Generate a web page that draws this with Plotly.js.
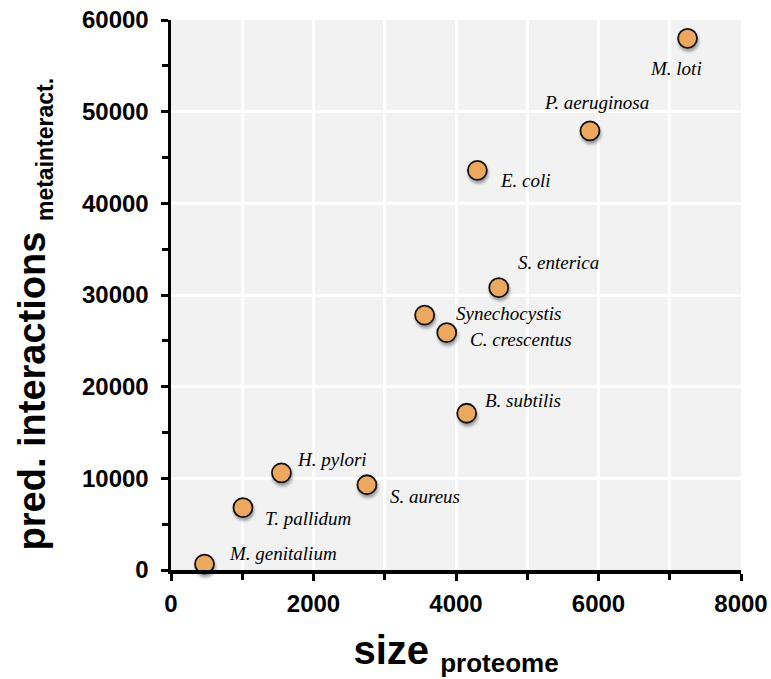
<!DOCTYPE html>
<html><head><meta charset="utf-8">
<script src="https://cdn.plot.ly/plotly-3.0.1.min.js"></script>
<style>body{margin:0;background:#fff}#c{width:771px;height:679px}
.scatterlayer .point{filter:drop-shadow(1.5px 3px 1.5px rgba(0,0,0,0.35));}</style>
</head><body><div id="c"></div>
<script>
const organisms = ["M. loti","P. aeruginosa","E. coli","S. enterica","Synechocystis","C. crescentus","B. subtilis","H. pylori","S. aureus","T. pallidum","M. genitalium"];
const proteomeSize = [7250,5880,4300,4600,3560,3870,4150,1550,2750,1010,470];
const predInteractions = [58000,47900,43600,30800,27800,25900,17100,10600,9300,6800,650];
const xTickVals = [0,2000,4000,6000,8000];
const xTickText = ["0","2000","4000","6000","8000"];
const yTickVals = [0,10000,20000,30000,40000,50000,60000];
const yTickText = ["0","10000","20000","30000","40000","50000","60000"];
const xTitle = "size", xTitleSub = "proteome";
const yTitle = "pred. interactions", yTitleSub = "metainteract.";
// label placement (pixel offsets, styling only)
const labelAnchor = ["center","center","left","left","left","left","left","left","left","left","left"];
const labelDx = [-12,7,21,17,29,21,16,14,21,20,23];
const labelDy = [-30,28,-10,25,2,-7,13,13,-12,-11,11];

const annotations = organisms.map((o,i)=>({
  x: proteomeSize[i], y: predInteractions[i], xref:'x', yref:'y',
  text: o, showarrow:false, xanchor: labelAnchor[i], yanchor:'middle',
  xshift: labelDx[i], yshift: labelDy[i],
  font:{family:'Liberation Serif, Times New Roman, serif', size:19, color:'#000', style:'italic'}
}));
annotations.push({
  xref:'paper', yref:'paper', x:-0.24, y:0.465, xanchor:'center', yanchor:'middle',
  textangle:-90, showarrow:false,
  text:'<b>'+yTitle+' <sub><span style="font-size:23px">'+yTitleSub+'</span></sub></b>',
  font:{family:'Liberation Sans, Arial, sans-serif', size:38, color:'#000'}
});

const trace = {
  x: proteomeSize, y: predInteractions, mode:'markers', type:'scatter',
  marker:{size:19, color:'#EBA85E', line:{color:'#111', width:1.8}},
  hoverinfo:'none', cliponaxis:false
};
const tickFont = {family:'Liberation Sans, Arial, sans-serif', size:24, color:'#000'};
const bold = a => a.map(t=>'<b>'+t+'</b>');
const layout = {
  width:771, height:679,
  margin:{l:171, r:30, t:20, b:109},
  paper_bgcolor:'#fff', plot_bgcolor:'#f2f2f2',
  showlegend:false,
  font:{family:'Liberation Sans, Arial, sans-serif'},
  xaxis:{
    range:[0,8000], tickmode:'array', tickvals:xTickVals, ticktext:bold(xTickText),
    ticks:'outside', ticklen:7, tickwidth:3, tickcolor:'#000', ticklabelstandoff:3,
    showline:true, linewidth:3.5, linecolor:'#000', zeroline:false,
    showgrid:true, gridcolor:'#fff', gridwidth:3,
    minor:{dtick:1000, ticks:'outside', ticklen:6, tickwidth:3, tickcolor:'#000', showgrid:true, gridcolor:'#fff', gridwidth:3},
    tickfont:tickFont, fixedrange:true,
    title:{text:'<b>'+xTitle+' <sub><span style="font-size:26px">'+xTitleSub+'</span></sub></b>', font:{family:'Liberation Sans, Arial, sans-serif', size:40, color:'#000'}, standoff:20}
  },
  yaxis:{
    range:[0,60000], tickmode:'array', tickvals:yTickVals, ticktext:bold(yTickText),
    ticks:'outside', ticklen:7, tickwidth:3, tickcolor:'#000', ticklabelstandoff:7,
    showline:true, linewidth:3.5, linecolor:'#000', zeroline:false,
    showgrid:true, gridcolor:'#fff', gridwidth:3,
    minor:{dtick:5000, ticks:'outside', ticklen:6, tickwidth:3, tickcolor:'#000', showgrid:false},
    tickfont:tickFont, fixedrange:true
  },
  annotations: annotations
};
Plotly.newPlot('c',[trace],layout,{displayModeBar:false,staticPlot:true});
</script></body></html>
